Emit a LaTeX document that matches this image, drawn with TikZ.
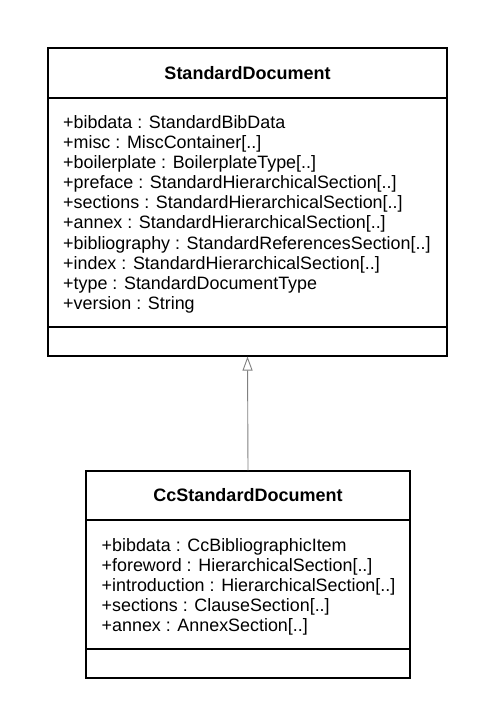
\documentclass[tikz,border=0pt]{standalone}
\usepackage{fontspec}
\setmainfont{Liberation Sans}
\usetikzlibrary{arrows.meta}
\tikzset{
  umlbox/.style={draw=black, line width=1.1pt, fill=white, inner sep=0pt},
  titletext/.style={font=\fontsize{18}{20}\selectfont\bfseries, inner sep=0pt},
  attrtext/.style={font=\fontsize{17.9}{20.1}\selectfont, align=left, inner sep=0pt, anchor=north west},
  divider/.style={draw=black, line width=1.1pt},
  generalization/.style={draw=gray, line width=0.9pt, -{Triangle[open, length=14pt, width=10pt, fill=white]}}
}
\begin{document}
\begin{tikzpicture}[x=1pt,y=-1pt]
\useasboundingbox (0,0) rectangle (495,727);
% StandardDocument
\node[umlbox, minimum width=399pt, minimum height=308pt] (sd) at (247.5,202) {};
\node[titletext] (sdtitle) at (247.5,73) {StandardDocument};
\draw[divider] (48,98) -- (447,98);
\node[attrtext] (sdattr) at (63,115.3) {+bibdata : StandardBibData\\
+misc : MiscContainer[..]\\
+boilerplate : BoilerplateType[..]\\
+preface : StandardHierarchicalSection[..]\\
+sections : StandardHierarchicalSection[..]\\
+annex : StandardHierarchicalSection[..]\\
+bibliography : StandardReferencesSection[..]\\
+index : StandardHierarchicalSection[..]\\
+type : StandardDocumentType\\
+version : String};
\draw[divider] (48,327) -- (447,327);
% CcStandardDocument
\node[umlbox, minimum width=324pt, minimum height=207pt] (cc) at (248,574.5) {};
\node[titletext] (cctitle) at (248,495) {CcStandardDocument};
\draw[divider] (86,520) -- (410,520);
\node[attrtext] (ccattr) at (101.5,538) {+bibdata : CcBibliographicItem\\
+foreword : HierarchicalSection[..]\\
+introduction : HierarchicalSection[..]\\
+sections : ClauseSection[..]\\
+annex : AnnexSection[..]};
\draw[divider] (86,649) -- (410,649);
% generalization
\draw[generalization] (cc.north) -- (sd.south);
\end{tikzpicture}
\end{document}
